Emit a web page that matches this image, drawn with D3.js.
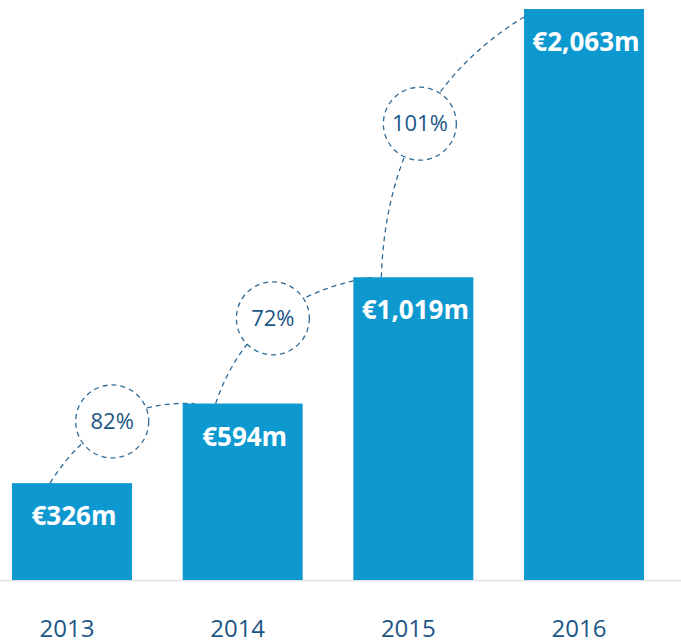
<!DOCTYPE html>
<html>
<head>
<meta charset="utf-8">
<script src="https://cdn.jsdelivr.net/npm/d3@7"></script>
<style>
  body { margin: 0; background: #fff; }
  text { font-family: "Open Sans", sans-serif; }
</style>
</head>
<body>
<div class="container"></div>
<script>
const years = ["2013", "2014", "2015", "2016"];
const revenue = [326, 594, 1019, 2063];           // € millions
const valueLabels = ["€326m", "€594m", "€1,019m", "€2,063m"];
const growth = ["82%", "72%", "101%"];

const width = 681, height = 644;
const baseY = 580;

const svg = d3.select(".container")
              .append("svg")
              .attr("width", width)
              .attr("height", height);

const xScale = d3.scaleBand()
                 .domain(years)
                 .range([12, 644])
                 .paddingInner(0.297);

// the last bar runs off the top of the graphic, so the scale is clamped
const yScale = d3.scaleLinear()
                 .domain([0, 1922])
                 .range([baseY, 9])
                 .clamp(true);

const bw = xScale.bandwidth();

// connector layout: start offset on bar i, end offset on bar i+1, bubble position along it
const links = [
  {s: 38, e: 12, ey: 0, fx: 0.43, fy: 0.775},
  {s: 33, e: 19, ey: 0, fx: 0.365, fy: 0.675},
  {s: 28, e: 0, ey: 8, fx: 0.27, fy: 0.59}
];

const bubbles = growth.map((g, i) => {
  const l = links[i];
  const sx = xScale(years[i]) + l.s, sy = yScale(revenue[i]);
  const ex = xScale(years[i + 1]) + l.e, ey = yScale(revenue[i + 1]) + l.ey;
  const cx = sx + l.fx * (ex - sx), cy = sy + l.fy * (ey - sy);
  return {label: g, sx, sy, ex, ey, cx, cy};
});

// quadratic arc that passes through the bubble centre halfway along
function arc(d) {
  const p = d3.path();
  const qx = 2 * d.cx - (d.sx + d.ex) / 2,
        qy = 2 * d.cy - (d.sy + d.ey) / 2;
  p.moveTo(d.sx, d.sy);
  p.quadraticCurveTo(qx, qy, d.ex, d.ey);
  return p.toString();
}

// dashed connectors
svg.selectAll(".link")
   .data(bubbles)
   .join("path")
   .attr("class", "link")
   .attr("d", arc)
   .attr("fill", "none")
   .attr("stroke", "#2f6a96")
   .attr("stroke-width", 1.3)
   .attr("stroke-dasharray", "5,4");

// baseline
svg.append("line")
   .attr("x1", 0)
   .attr("x2", width)
   .attr("y1", baseY + 0.5)
   .attr("y2", baseY + 0.5)
   .attr("stroke", "#e2e2e2")
   .attr("stroke-width", 1.5);

// bars
svg.selectAll(".bar")
   .data(revenue)
   .join("rect")
   .attr("class", "bar")
   .attr("x", (d, i) => xScale(years[i]))
   .attr("y", d => yScale(d))
   .attr("width", bw)
   .attr("height", d => baseY - yScale(d))
   .attr("fill", "#0d99cf");

svg.selectAll(".val")
   .data(revenue)
   .join("text")
   .attr("class", "val")
   .attr("x", (d, i) => xScale(years[i]) + bw / 2 + 2)
   .attr("y", d => yScale(d) + 42)
   .attr("text-anchor", "middle")
   .attr("fill", "#fff")
   .attr("font-size", 26)
   .attr("font-weight", 700)
   .text((d, i) => valueLabels[i]);

// growth bubbles
const bub = svg.selectAll(".bubble")
               .data(bubbles)
               .join("g")
               .attr("class", "bubble")
               .attr("transform", d => `translate(${d.cx},${d.cy})`);
bub.append("circle")
   .attr("r", 36.5)
   .attr("fill", "#fff")
   .attr("stroke", "#2f6a96")
   .attr("stroke-width", 1.3)
   .attr("stroke-dasharray", "5,4");
bub.append("text")
   .attr("text-anchor", "middle")
   .attr("dy", "0.35em")
   .attr("font-size", 22)
   .attr("fill", "#1b5686")
   .text(d => d.label);

// year labels
svg.selectAll(".year")
   .data(years)
   .join("text")
   .attr("class", "year")
   .attr("x", d => xScale(d) + bw / 2 - 5)
   .attr("y", 637)
   .attr("text-anchor", "middle")
   .attr("font-size", 24)
   .attr("fill", "#1b5686")
   .text(d => d);
</script>
</body>
</html>
